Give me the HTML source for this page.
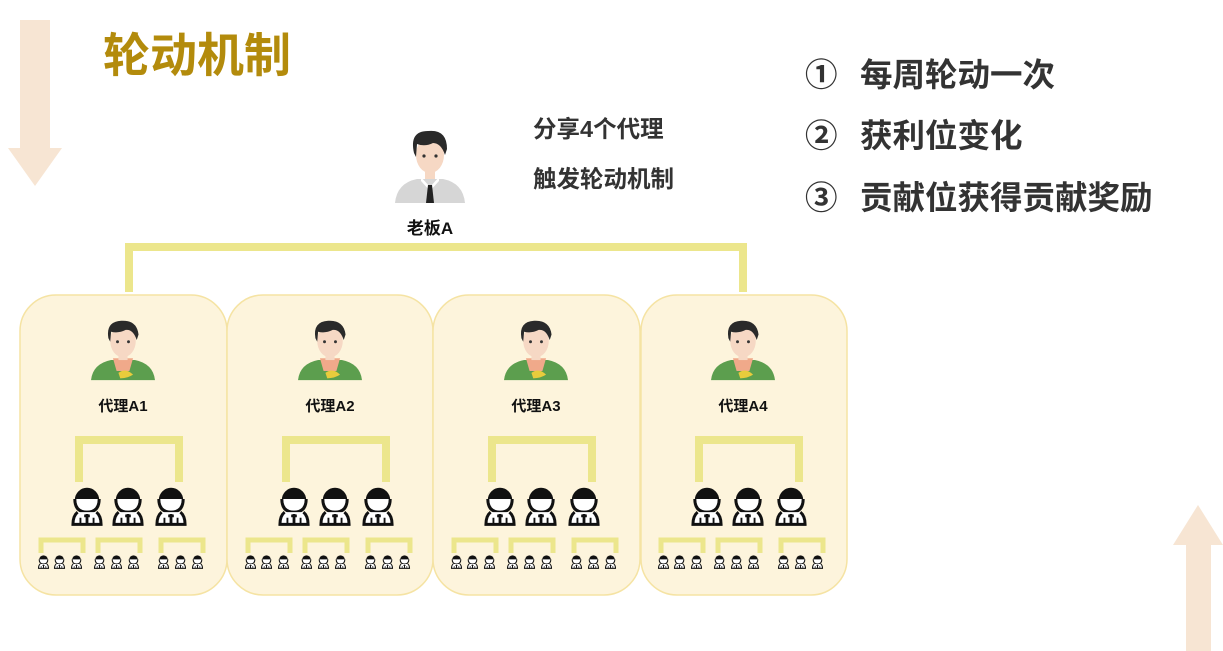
<!DOCTYPE html>
<html><head><meta charset="utf-8"><style>
html,body{margin:0;padding:0;background:#fff;}
svg{display:block;}
text{font-family:"Liberation Sans","Noto Sans CJK SC",sans-serif;font-weight:bold;}
</style></head><body>
<svg width="1223" height="651" viewBox="0 0 1223 651" xmlns="http://www.w3.org/2000/svg">
<defs>
  <symbol id="p" viewBox="0 0 32 42" overflow="visible">
    <path d="M3 14 A13 13 0 0 1 29 14 Z" fill="#111"/>
    <path d="M3 13 Q3 27 16 27 Q29 27 29 13" fill="#fff" stroke="#111" stroke-width="3.2"/>
    <path d="M6 27 Q1 31 1 40 L31 40 Q31 31 26 27" fill="#fff" stroke="#111" stroke-width="3.2"/>
    <path d="M16 29 L16 40 M13 31 L19 31" stroke="#111" stroke-width="3"/>
    <path d="M9 33 L9 40 M23 33 L23 40" stroke="#111" stroke-width="2"/>
  </symbol>
  <symbol id="av" viewBox="0 0 70 70" overflow="visible">
    <path d="M0 68 Q2 50 22 46 L48 46 Q68 50 70 68 Z" fill="#5c9e4e"/>
    <path d="M24 44 L46 44 L42 58 L28 58 Z" fill="#f0a98a"/>
    <path d="M30 60 Q38 54 46 62 Q40 66 32 66 Z" fill="#e8cc3c"/>
    <ellipse cx="35" cy="25" rx="14" ry="18" fill="#f6d8c4"/>
    <rect x="30" y="36" width="10" height="10" fill="#f6d8c4"/>
    <path d="M19 22 Q16 4 33 3 Q50 2 52 18 L50 24 Q46 12 38 13 Q30 17 22 15 L21 26 Z" fill="#2a2a2a"/>
    <circle cx="29" cy="26" r="1.6" fill="#333"/><circle cx="41" cy="26" r="1.6" fill="#333"/>
  </symbol>
  <symbol id="boss" viewBox="0 0 70 80" overflow="visible">
    <path d="M0 78 Q2 58 22 54 L48 54 Q68 58 70 78 Z" fill="#d6d6d6"/>
    <path d="M26 52 L35 62 L44 52 L44 56 L35 66 L26 56Z" fill="#fff"/>
    <path d="M33 60 L37 60 L39 78 L31 78 Z" fill="#222"/>
    <ellipse cx="35" cy="30" rx="14" ry="18" fill="#f6d8c4"/>
    <rect x="30" y="42" width="10" height="12" fill="#f6d8c4"/>
    <path d="M19 28 Q14 6 33 6 Q52 4 52 24 L50 30 Q46 18 38 18 Q30 22 22 19 L21 32 Z" fill="#2a2a2a"/>
    <circle cx="29" cy="31" r="1.6" fill="#333"/><circle cx="41" cy="31" r="1.6" fill="#333"/>
  </symbol>
  <g id="inner">
    <use href="#av" x="-32" y="315" width="64" height="70"/>
    <path d="M-44 482 V440 H56 V482" fill="none" stroke="#ece68c" stroke-width="8"/>
    <use href="#p" x="-51" y="486" width="30" height="41"/>
    <use href="#p" x="-10" y="486" width="30" height="41"/>
    <use href="#p" x="33" y="486" width="30" height="41"/>
    <g fill="none" stroke="#ece68c" stroke-width="5">
      <path d="M-82 553 V540 H-40 V553"/>
      <path d="M-25 553 V540 H17 V553"/>
      <path d="M38 553 V540 H80 V553"/>
    </g>
    <g>
      <use href="#p" x="-85" y="555" width="11" height="14"/>
      <use href="#p" x="-69" y="555" width="11" height="14"/>
      <use href="#p" x="-52" y="555" width="11" height="14"/>
      <use href="#p" x="-29" y="555" width="11" height="14"/>
      <use href="#p" x="-12" y="555" width="11" height="14"/>
      <use href="#p" x="5" y="555" width="11" height="14"/>
      <use href="#p" x="35" y="555" width="11" height="14"/>
      <use href="#p" x="52" y="555" width="11" height="14"/>
      <use href="#p" x="69" y="555" width="11" height="14"/>
    </g>
  </g>
</defs>

<path d="M20 20 H50 V148 H62 L35 186 L8 148 H20 Z" fill="#f7e5d3"/>
<path d="M1186 651 V545 H1173 L1198 505 L1223 545 H1211 V651 Z" fill="#f7e5d3"/>

<text x="103" y="72" font-size="47" fill="#b38b0c">轮动机制</text>

<g font-size="32.5" fill="#333">
  <text x="805" y="86">①</text><text x="860" y="86">每周轮动一次</text>
  <text x="805" y="147">②</text><text x="860" y="147">获利位变化</text>
  <text x="805" y="209">③</text><text x="860" y="209">贡献位获得贡献奖励</text>
</g>

<use href="#boss" x="395" y="125" width="70" height="80"/>
<text x="430" y="234" font-size="17" fill="#111" text-anchor="middle">老板A</text>
<g font-size="23.5" fill="#333">
  <text x="533" y="137">分享4个代理</text>
  <text x="533" y="187">触发轮动机制</text>
</g>

<path d="M129 292 V247 H743 V292" fill="none" stroke="#ece68c" stroke-width="8"/>

<g fill="#fdf4dc" stroke="#f5e3a3" stroke-width="1.5">
  <rect x="20" y="295" width="207" height="300" rx="36"/>
  <rect x="227" y="295" width="206" height="300" rx="36"/>
  <rect x="433" y="295" width="207" height="300" rx="36"/>
  <rect x="641" y="295" width="206" height="300" rx="36"/>
</g>

<use href="#inner" x="123"/>
<use href="#inner" x="330"/>
<use href="#inner" x="536"/>
<use href="#inner" x="743"/>

<g font-size="15" fill="#111" text-anchor="middle">
  <text x="123" y="411">代理A1</text>
  <text x="330" y="411">代理A2</text>
  <text x="536" y="411">代理A3</text>
  <text x="743" y="411">代理A4</text>
</g>
</svg>
</body></html>
